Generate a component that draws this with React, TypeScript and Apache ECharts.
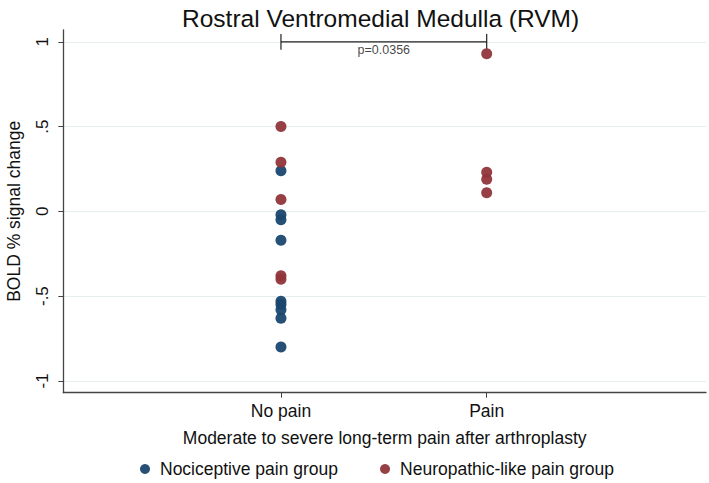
import React, { useEffect, useRef } from "react";
import * as echarts from "echarts";

const titleText = "Rostral Ventromedial Medulla (RVM)";
const categories = ["No pain", "Pain"];
const categoryPositions = [1, 2];
const yTicks = [-1, -0.5, 0, 0.5, 1];
const yTickLabels = ["-1", "-.5", "0", ".5", "1"];

// Nociceptive (blue) values, all in "No pain"
const nociceptiveNoPain = [0.24, -0.02, -0.05, -0.17, -0.53, -0.55, -0.58, -0.63, -0.8];
// Neuropathic-like (red) values
const neuropathicNoPain = [0.5, 0.29, 0.07, -0.38, -0.4];
const neuropathicPain = [0.93, 0.23, 0.19, 0.11];

const bracketLevel = 1.0;
const bracketTick = 0.047;
const pValueText = "p=0.0356";

const NAVY = "#1a476f";
const MAROON = "#90353b";
const FONT = "Liberation Sans, Arial, Helvetica, sans-serif";

export default function App() {
  const ref = useRef<HTMLDivElement>(null);
  useEffect(() => {
    if (!ref.current) return;
    const chart = echarts.init(ref.current, null, { renderer: "svg" });
    const blueData = nociceptiveNoPain.map((v) => [categoryPositions[0], v]);
    const redData = [
      ...neuropathicNoPain.map((v) => [categoryPositions[0], v]),
      ...neuropathicPain.map((v) => [categoryPositions[1], v]),
    ];
    const [x1, x2] = categoryPositions;
    chart.setOption({
      animation: false,
      backgroundColor: "#ffffff",
      textStyle: { fontFamily: FONT },
      title: {
        text: titleText,
        left: 177,
        top: 1,
        textStyle: { fontFamily: FONT, fontSize: 24.5, fontWeight: "normal", color: "#111" },
      },
      grid: {
        left: 63.3,
        right: 3,
        top: 30,
        bottom: 90.3,
        containLabel: false,
        outerBoundsMode: "none",
      },
      legend: {
        left: 135,
        top: 455,
        itemWidth: 10,
        itemHeight: 10,
        itemGap: 42,
        icon: "circle",
        textStyle: { fontFamily: FONT, fontSize: 17.5, color: "#111", padding: [0, 0, 0, 5] },
        data: ["Nociceptive pain group", "Neuropathic-like pain group"],
      },
      xAxis: {
        type: "value",
        min: -0.058,
        max: 3.066,
        name: "Moderate to severe long-term pain after arthroplasty",
        nameLocation: "middle",
        nameGap: 36,
        nameTextStyle: { fontFamily: FONT, fontSize: 17.5, color: "#111", verticalAlign: "top" },
        axisLine: { show: true, onZero: false, lineStyle: { color: "#444", width: 1.3 } },
        axisTick: { show: true, customValues: categoryPositions, length: 5, lineStyle: { color: "#444" } },
        axisLabel: {
          customValues: categoryPositions,
          formatter: (v: number) => categories[categoryPositions.indexOf(v)] ?? "",
          fontFamily: FONT,
          fontSize: 17.5,
          color: "#111",
          margin: 9,
        },
        splitLine: { show: false },
      },
      yAxis: {
        type: "value",
        min: -1.07,
        max: 1.07,
        name: "BOLD % signal change",
        nameLocation: "middle",
        nameGap: 40,
        nameTextStyle: { fontFamily: FONT, fontSize: 17.5, color: "#111" },
        axisLine: { show: true, onZero: false, lineStyle: { color: "#444", width: 1.3 } },
        axisTick: { show: true, customValues: yTicks, length: 5, lineStyle: { color: "#444" } },
        axisLabel: {
          customValues: yTicks,
          rotate: 90,
          formatter: (v: number) => yTickLabels[yTicks.indexOf(v)] ?? "",
          fontFamily: FONT,
          fontSize: 17,
          color: "#111",
          margin: 12,
        },
        splitLine: { show: true, lineStyle: { color: "#e6eef0", width: 1 } },
      },
      series: [
        {
          name: "Nociceptive pain group",
          type: "scatter",
          symbol: "circle",
          symbolSize: 11,
          itemStyle: { color: NAVY, opacity: 0.95 },
          data: blueData,
          z: 3,
        },
        {
          name: "Neuropathic-like pain group",
          type: "scatter",
          symbol: "circle",
          symbolSize: 11,
          itemStyle: { color: MAROON, opacity: 0.95 },
          data: redData,
          z: 3,
        },
        {
          name: "bracket",
          type: "line",
          symbol: "none",
          silent: true,
          connectNulls: false,
          lineStyle: { color: "#222", width: 1.2 },
          data: [
            [x1, bracketLevel + bracketTick],
            [x1, bracketLevel - bracketTick],
            "-",
            [x1, bracketLevel],
            [x2, bracketLevel],
            "-",
            [x2, bracketLevel + bracketTick],
            [x2, bracketLevel - bracketTick],
          ],
          z: 2,
        },
        {
          name: "pvalue",
          type: "scatter",
          symbolSize: 0,
          silent: true,
          data: [[(x1 + x2) / 2, bracketLevel]],
          label: {
            show: true,
            position: "bottom",
            distance: 2,
            formatter: pValueText,
            fontFamily: FONT,
            fontSize: 12.5,
            color: "#111",
          },
        },
      ],
    });
    return () => chart.dispose();
  }, []);
  return (
    <div
      ref={ref}
      style={{ position: "fixed", left: 0, top: 0, width: 709, height: 483 }}
    />
  );
}
